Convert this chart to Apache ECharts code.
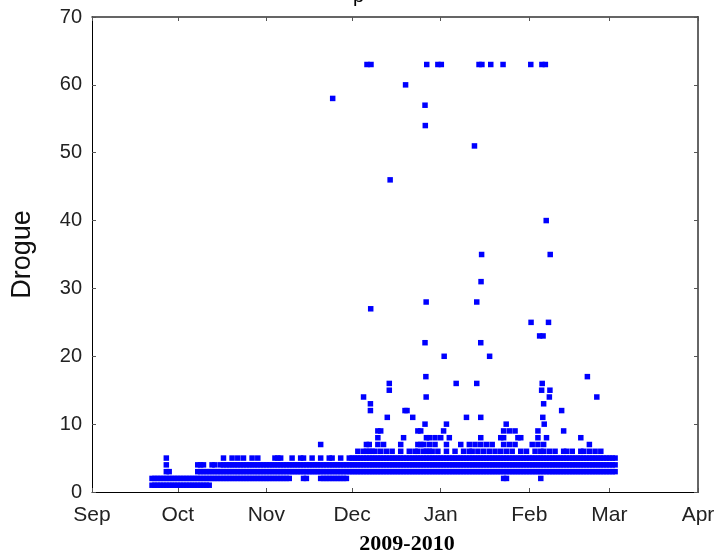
<!DOCTYPE html>
<html>
<head>
<meta charset="utf-8">
<script src="https://cdn.jsdelivr.net/npm/echarts@6/dist/echarts.min.js"></script>
<style>html,body{margin:0;padding:0;background:#fff;}#c{width:721px;height:560px;}</style>
</head>
<body>
<div id="c"></div>
<script>
// Month tick positions (days since 1 Sep 2009) and labels
const monthStarts = [0, 30, 61, 91, 122, 153, 181, 212];
const monthLabels = ['Sep', 'Oct', 'Nov', 'Dec', 'Jan', 'Feb', 'Mar', 'Apr'];
const yTicks = [0, 10, 20, 30, 40, 50, 60, 70];

// Dense band: one string per day starting at bandStartDay; each digit is a drogue value observed that day
const bandStartDay = 21;
const band = [
  "12","12","12","12","12","12345","123","12","12","12",
  "12","12","12","12","12","12","1234","1234","1234","123",
  "123","234","234","23","234","2345","234","234","2345","234",
  "2345","234","2345","234","234","2345","234","2345","234","234",
  "234","234","234","2345","2345","2345","234","234","234","345",
  "34","34","345","2345","234","34","345","34","34","23457",
  "234","234","2345","2345","234","234","2345","234","234","345",
  "345","345","3456","345","3456","34567","34567","3456","3456","345789",
  "34569","3457","3456","345","3456","345","345","34567","3458","345",
  "3456","345","3456","345679","34579","34567","34568","345678","3456","34578",
  "3456","3458","3459","34567","3458","345","3456","345","3457","3456",
  "345","34567","3456","3457","3456","34578","3456","3457","3456","3457",
  "3456","345","34568","2345789","23456","34579","3456","34579","3458","34568",
  "345","3456","345","3457","3456","345789","23456","34567","3458","3456",
  "345","3456","345","345","34569","3456","345","3456","345","345",
  "34568","3456","345","34567","345","3456","345","3456","345","345",
  "345","345","345"
];

// Scattered high values: day offsets and values
const outlierDays = [
  96.2, 97.6, 117.1, 121, 122.2, 135.4, 136.4, 139.5, 143.8, 153.5, 157.4, 158.6,
  109.7, 84.2, 116.5, 116.6, 133.8, 104.3, 158.9, 136.3, 160.3, 136.1,
  116.9, 134.6, 97.5, 153.6, 159.7, 156.6, 157.8, 116.5, 136, 123.2, 139.1,
  116.8, 173.3, 104, 127.4, 134.6, 157.5, 104, 157.3, 160.2,
  95, 116.9, 160, 176.6, 97.4, 158, 97.4, 109.5, 110.2, 164.3,
  103.3, 112.2, 131, 136, 157.7, 116.5, 124, 144.9, 158.2
];
const outlierValues = [
  63, 63, 63, 63, 63, 63, 63, 63, 63, 63, 63, 63,
  60, 58, 57, 54, 51, 46, 40, 35, 35, 31,
  28, 28, 27, 25, 25, 23, 23, 22, 22, 20, 20,
  17, 17, 16, 16, 16, 16, 15, 15, 15,
  14, 14, 14, 14, 13, 13, 12, 12, 12, 12,
  11, 11, 11, 11, 11, 10, 10, 10, 10
];

const points = [];
band.forEach((s, i) => {
  for (const ch of s) points.push([bandStartDay + i, Number(ch)]);
});
outlierDays.forEach((d, i) => points.push([d, outlierValues[i]]));

const labelFmt = v => {
  const k = monthStarts.indexOf(v);
  return k >= 0 ? monthLabels[k] : '';
};
const sans = 'Liberation Sans, Arial, sans-serif';
const axColor = '#000';

const xBase = {
  type: 'value', min: 0, max: 212,
  splitLine: { show: false },
  axisLine: { show: true, onZero: false, lineStyle: { color: axColor, width: 1 } },
  axisTick: { show: true, inside: true, length: 4, customValues: monthStarts, lineStyle: { color: '#555' } },
};
const yBase = {
  type: 'value', min: 0, max: 70, interval: 10,
  splitLine: { show: false },
  axisLine: { show: true, onZero: false, lineStyle: { color: axColor, width: 1 } },
  axisTick: { show: true, inside: true, length: 4, lineStyle: { color: '#555' } },
};

const chart = echarts.init(document.getElementById('c'), null, { renderer: 'canvas' });
chart.setOption({
  animation: false,
  backgroundColor: '#fff',
  title: {
    text: 'p', left: 348, top: -19,
    textStyle: { fontFamily: sans, fontSize: 20, fontWeight: 'normal', color: '#000' }
  },
  grid: { left: 92, right: 23, top: 17, bottom: 63, containLabel: false },
  xAxis: [
    Object.assign({}, xBase, {
      position: 'bottom',
      axisLabel: {
        show: true, customValues: monthStarts, formatter: labelFmt,
        fontFamily: sans, fontSize: 21, color: '#222', margin: 13,
        showMinLabel: true, showMaxLabel: true
      },
      name: '2009-2010', nameLocation: 'middle', nameGap: 41,
      nameTextStyle: { fontFamily: 'Liberation Serif, Times New Roman, serif', fontWeight: 'bold', fontSize: 22, color: '#000', padding: [0, 0, 0, 24] }
    }),
    Object.assign({}, xBase, { position: 'top', axisLabel: { show: false },
      axisLine: { show: true, onZero: false, lineStyle: { color: '#333', width: 1.5 } } })
  ],
  yAxis: [
    Object.assign({}, yBase, {
      position: 'left',
      axisLabel: { show: true, fontFamily: sans, fontSize: 20, color: '#222', margin: 10 },
      name: 'Drogue', nameLocation: 'middle', nameGap: 56, nameRotate: 90,
      nameTextStyle: { fontFamily: sans, fontSize: 27, color: '#111' }
    }),
    Object.assign({}, yBase, { position: 'right', axisLabel: { show: false },
      axisLine: { show: true, onZero: false, lineStyle: { color: '#666', width: 2 } } })
  ],
  series: [{
    type: 'scatter',
    xAxisIndex: 0, yAxisIndex: 0,
    data: points,
    symbol: 'rect',
    symbolSize: 5.5,
    itemStyle: { color: '#0000ff', opacity: 1 },
    silent: true
  }]
});
</script>
</body>
</html>
